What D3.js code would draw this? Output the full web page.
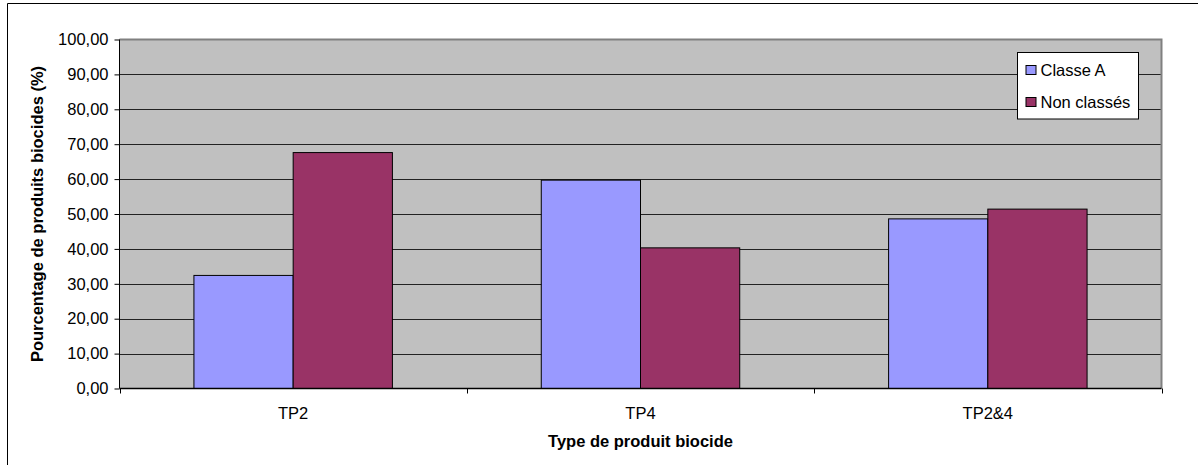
<!DOCTYPE html>
<html>
<head>
<meta charset="utf-8">
<script src="https://cdn.jsdelivr.net/npm/d3@7"></script>
<style>
  html, body { margin: 0; padding: 0; background: #fff; }
  svg { display: block; font-family: "Liberation Sans", Arial, sans-serif; }
</style>
</head>
<body>
<svg id="chart" width="1198" height="465"></svg>
<script>
// Share of biocidal products per product type
const categories = ["TP2", "TP4", "TP2&4"];
const seriesNames = ["Classe A", "Non classés"];
const classeA = [32.4, 59.7, 48.6];
const nonClasses = [67.6, 40.3, 51.4];
const seriesColors = ["#9999FF", "#993366"];
const yTicks = [0, 10, 20, 30, 40, 50, 60, 70, 80, 90, 100];

const FONT = "'Liberation Sans', Arial, sans-serif";
const svg = d3.select("#chart");
const W = 1198, H = 465;
const plot = { left: 119.5, top: 39.5, right: 1161.5, bottom: 388.5 };

// outer chart frame: left and top edges
svg.append("path")
  .attr("d", `M7.5,${H}V3.5H${W}`)
  .attr("fill", "none").attr("stroke", "#000").attr("stroke-width", 1);

const x = d3.scaleBand().domain(categories).range([plot.left, plot.right]);
const y = d3.scaleLinear().domain([0, 100]).range([plot.bottom, plot.top]);

// plot area background
svg.append("rect")
  .attr("x", plot.left).attr("y", plot.top)
  .attr("width", plot.right - plot.left).attr("height", plot.bottom - plot.top)
  .attr("fill", "#C0C0C0");

// horizontal gridlines
svg.append("g").selectAll("line").data(yTicks.filter(d => d > 0 && d < 100)).join("line")
  .attr("x1", plot.left).attr("x2", plot.right)
  .attr("y1", d => Math.round(y(d)) + 0.5).attr("y2", d => Math.round(y(d)) + 0.5)
  .attr("stroke", "#222").attr("stroke-width", 1);

// plot area border (top and right)
svg.append("path")
  .attr("d", `M${plot.left},${plot.top}H${plot.right}V${plot.bottom}`)
  .attr("fill", "none").attr("stroke", "#808080").attr("stroke-width", 2);

// bars: gap width 150% of bar width
const barW = x.bandwidth() / 3.5;
const series = [classeA, nonClasses];
series.forEach((vals, si) => {
  svg.append("g").selectAll("rect").data(categories).join("rect")
    .attr("x", (c) => x(c) + barW * 0.75 + si * barW)
    .attr("y", (c, i) => y(vals[i]))
    .attr("width", barW)
    .attr("height", (c, i) => y(0) - y(vals[i]))
    .attr("fill", seriesColors[si])
    .attr("stroke", "#000").attr("stroke-width", 1);
});

// y axis
const yAxis = svg.append("g")
  .attr("transform", `translate(${plot.left},0)`)
  .call(d3.axisLeft(y).tickValues(yTicks).tickSize(5).tickPadding(6)
    .tickFormat(d => d3.format(".2f")(d).replace(".", ",")));
yAxis.select(".domain").attr("stroke", "#000").attr("d", `M0,${plot.bottom}V${plot.top}`);
yAxis.selectAll(".tick line").attr("stroke", "#000");
yAxis.selectAll("text").attr("font-size", 16.5).attr("fill", "#000")
  .attr("font-family", FONT);

// x axis with ticks at category boundaries
const xAxis = svg.append("g")
  .attr("transform", `translate(0,${plot.bottom})`);
xAxis.append("line")
  .attr("x1", plot.left).attr("x2", plot.right)
  .attr("stroke", "#000").attr("stroke-width", 1.5);
const bounds = categories.map(c => x(c)).concat([plot.right]);
xAxis.selectAll(".bt").data(bounds).join("line").attr("class", "bt")
  .attr("x1", d => Math.round(d) + 0.5).attr("x2", d => Math.round(d) + 0.5)
  .attr("y1", 0).attr("y2", 5).attr("stroke", "#000");
xAxis.selectAll(".lbl").data(categories).join("text").attr("class", "lbl")
  .attr("x", c => x(c) + x.bandwidth() / 2)
  .attr("y", 30)
  .attr("text-anchor", "middle")
  .attr("font-size", 16.5).attr("fill", "#000").attr("font-family", FONT)
  .text(c => c);

// axis titles
svg.append("text")
  .attr("x", (plot.left + plot.right) / 2).attr("y", 447)
  .attr("text-anchor", "middle").attr("font-weight", "bold").attr("font-size", 16.5)
  .attr("font-family", FONT)
  .text("Type de produit biocide");
svg.append("text")
  .attr("transform", `translate(43,${(plot.top + plot.bottom) / 2}) rotate(-90)`)
  .attr("text-anchor", "middle").attr("font-weight", "bold").attr("font-size", 16.5)
  .attr("font-family", FONT)
  .text("Pourcentage de produits biocides (%)");

// legend
const lg = svg.append("g").attr("transform", "translate(1017.5,52.5)");
lg.append("rect").attr("width", 121).attr("height", 66.5)
  .attr("fill", "#fff").attr("stroke", "#000").attr("stroke-width", 1);
seriesNames.forEach((n, i) => {
  const row = lg.append("g").attr("transform", `translate(0,${i * 32})`);
  row.append("rect").attr("x", 8.5).attr("y", 13).attr("width", 10).attr("height", 9)
    .attr("fill", seriesColors[i]).attr("stroke", "#000").attr("stroke-width", 1);
  row.append("text").attr("x", 23).attr("y", 23.5)
    .attr("font-size", 16.5).attr("fill", "#000").attr("font-family", FONT).text(n);
});
</script>
</body>
</html>
